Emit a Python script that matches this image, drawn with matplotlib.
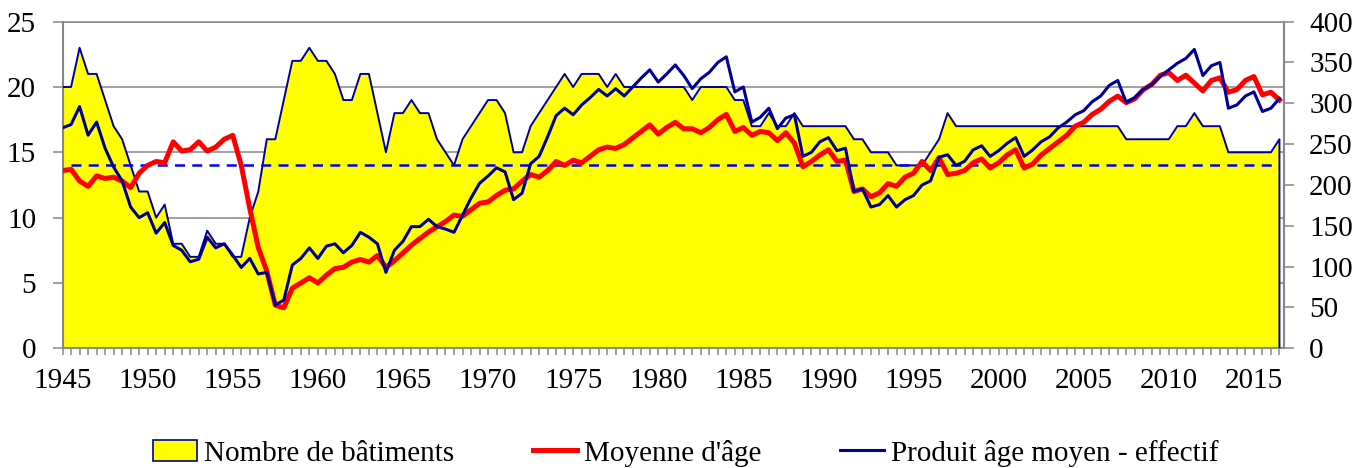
import numpy as np
import matplotlib
matplotlib.use('Agg')
import matplotlib.pyplot as plt
import matplotlib.patches as mpatches
from matplotlib.lines import Line2D
from matplotlib.ticker import MultipleLocator

# Semestres de 1945 a 2016.5
annees = np.arange(1945, 2017, 0.5)

# Nombre de batiments (axe de gauche)
nb_batiments = [20, 20, 23, 21, 21, 19, 17, 16, 14, 12,
                12, 10, 11, 8, 8, 7, 7, 9, 8, 8,
                7, 7, 10, 12, 16, 16, 19, 22, 22, 23,
                22, 22, 21, 19, 19, 21, 21, 18, 15, 18,
                18, 19, 18, 18, 16, 15, 14, 16, 17, 18,
                19, 19, 18, 15, 15, 17, 18, 19, 20, 21,
                20, 21, 21, 21, 20, 21, 20, 20, 20, 20,
                20, 20, 20, 20, 19, 20, 20, 20, 20, 19,
                19, 17, 17, 18, 17, 17, 18, 17, 17, 17,
                17, 17, 17, 16, 16, 15, 15, 15, 14, 14,
                14, 14, 15, 16, 18, 17, 17, 17, 17, 17,
                17, 17, 17, 17, 17, 17, 17, 17, 17, 17,
                17, 17, 17, 17, 17, 16, 16, 16, 16, 16,
                16, 17, 17, 18, 17, 17, 17, 15, 15, 15,
                15, 15, 15, 16]

# Moyenne d'age (axe de gauche)
moyenne_age = [13.6, 13.7, 12.8, 12.4, 13.2, 13.0, 13.1, 12.8, 12.3, 13.4,
               14.0, 14.3, 14.2, 15.8, 15.1, 15.2, 15.8, 15.1, 15.4, 16.0,
               16.3, 14.0, 10.7, 7.7, 5.9, 3.3, 3.1, 4.6, 5.0, 5.4,
               5.0, 5.6, 6.1, 6.2, 6.6, 6.8, 6.6, 7.1, 6.2, 6.7,
               7.3, 7.9, 8.4, 8.9, 9.3, 9.7, 10.2, 10.1, 10.6, 11.1,
               11.2, 11.7, 12.1, 12.2, 12.8, 13.3, 13.1, 13.6, 14.3, 14.0,
               14.4, 14.2, 14.7, 15.2, 15.4, 15.3, 15.6, 16.1, 16.6, 17.1,
               16.4, 16.9, 17.3, 16.8, 16.8, 16.5, 16.9, 17.5, 17.9, 16.6,
               16.9, 16.3, 16.6, 16.5, 15.9, 16.5, 15.7, 13.9, 14.3, 14.8,
               15.2, 14.3, 14.4, 12.0, 12.2, 11.6, 11.9, 12.6, 12.4, 13.1,
               13.4, 14.3, 13.6, 14.6, 13.3, 13.4, 13.6, 14.2, 14.5, 13.8,
               14.2, 14.8, 15.2, 13.8, 14.1, 14.8, 15.3, 15.8, 16.3, 17.0,
               17.3, 17.9, 18.3, 18.9, 19.3, 18.8, 19.1, 19.8, 20.2, 20.9,
               21.1, 20.5, 20.9, 20.3, 19.7, 20.5, 20.7, 19.6, 19.8, 20.5,
               20.8, 19.4, 19.6, 19.0]

# Produit age moyen - effectif (axe de droite)
produit_age = [270, 274, 296, 261, 277, 245, 222, 205, 173, 160,
               166, 141, 154, 126, 120, 106, 109, 136, 123, 128,
               114, 99, 110, 91, 93, 53, 59, 102, 110, 123,
               110, 125, 128, 117, 126, 142, 136, 128, 93, 120,
               131, 149, 149, 158, 149, 146, 142, 163, 184, 202,
               211, 221, 216, 182, 190, 226, 235, 259, 285, 294,
               286, 298, 307, 317, 309, 318, 309, 320, 331, 341,
               326, 336, 347, 334, 318, 330, 338, 350, 357, 314,
               320, 277, 283, 294, 269, 282, 286, 235, 240, 253,
               258, 242, 245, 192, 195, 173, 176, 187, 173, 182,
               187, 200, 205, 234, 237, 224, 229, 243, 248, 235,
               242, 251, 258, 235, 243, 253, 259, 270, 277, 286,
               291, 302, 309, 322, 328, 301, 307, 317, 323, 333,
               341, 349, 355, 366, 334, 346, 350, 294, 298, 309,
               314, 290, 294, 306]

ref_age = 14  # ligne pointillee

JAUNE, ROUGE, MARINE, BLEU, GRIS = '#ffff00', '#ff0000', '#000099', '#0000ff', '#878787'
TAILLE = 21

def main():
    plt.rcParams['font.family'] = ['Liberation Serif', 'DejaVu Serif']
    fig = plt.figure(figsize=(13.69, 4.68), dpi=100)
    ax = fig.add_axes([0.0457, 0.2558, 0.8923, 0.6979])
    ax2 = ax.twinx()

    ax.set_axisbelow(True)
    ax.yaxis.grid(True, color=GRIS, lw=1.1)
    ax.fill_between(annees, nb_batiments, 0, color=JAUNE, lw=0, zorder=2)
    ax.plot(np.r_[annees, annees[-1]], np.r_[nb_batiments, 0], color=MARINE, lw=1.4, zorder=3)
    ax.plot(annees[1:], [ref_age] * (len(annees) - 1), color=BLEU, lw=1.8, dashes=(4.0, 2.9), zorder=4)
    ax.plot(annees, moyenne_age, color=ROUGE, lw=3.6, zorder=5, solid_joinstyle='round')
    ax2.plot(annees, produit_age, color=MARINE, lw=2.2, solid_joinstyle='round')

    ax.set_xlim(1945, 2016.775)
    ax.set_ylim(0, 25)
    ax2.set_ylim(0, 400)
    ax.set_xticks(range(1945, 2016, 5))
    ax.xaxis.set_minor_locator(MultipleLocator(0.5))
    ax.set_yticks(range(0, 26, 5))
    ax2.set_yticks(range(0, 401, 50))

    ax.tick_params(axis='x', which='both', direction='out', color=GRIS, length=5, width=1.1, labelsize=TAILLE, pad=9)
    ax.tick_params(axis='y', direction='out', color=GRIS, length=7, width=1.1, labelsize=TAILLE, pad=12)
    ax2.tick_params(axis='y', direction='out', color=GRIS, length=7, width=1.1, labelsize=TAILLE, pad=11)

    for a in (ax, ax2):
        for s in a.spines.values():
            s.set_color(GRIS); s.set_linewidth(1.5)
    ax.spines['right'].set_visible(False)
    ax.spines['top'].set_linewidth(1.1)
    for s in ('left', 'bottom', 'top'):
        ax2.spines[s].set_visible(False)

    handles = [mpatches.Patch(facecolor=JAUNE, edgecolor=MARINE, lw=1.2),
               Line2D([0], [0], color=ROUGE, lw=3.6),
               Line2D([0], [0], color=MARINE, lw=2.2)]
    labels = ['Nombre de bâtiments', "Moyenne d'âge", 'Produit âge moyen - effectif']
    fig.legend(handles, labels, loc='center', bbox_to_anchor=(0.501, 0.032), ncol=3, frameon=False,
               fontsize=TAILLE, handlelength=1.5, handletextpad=0.25, columnspacing=2.7)

    fig.savefig('out.png', dpi=100)
    plt.close(fig)

if __name__ == '__main__': main()
